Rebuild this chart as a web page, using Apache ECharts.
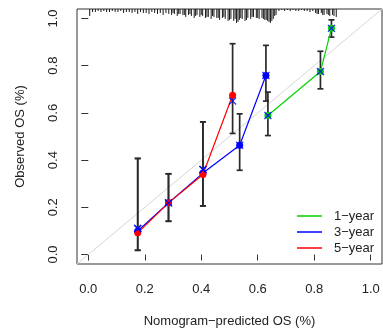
<!DOCTYPE html>
<html>
<head>
<meta charset="utf-8">
<script src="https://cdn.jsdelivr.net/npm/echarts@6/dist/echarts.min.js"></script>
<style>html,body{margin:0;padding:0;background:#fff}#c{width:383px;height:336px}</style>
</head>
<body>
<div id="c"></div>
<script>
// ---- data ----
const xTicks = [0, 0.2, 0.4, 0.6, 0.8, 1.0];
const yTicks = [0, 0.2, 0.4, 0.6, 0.8, 1.0];
const legendNames = ['1\u2212year', '3\u2212year', '5\u2212year'];

// 1-year
const pred1 = [0.636, 0.822, 0.861];
const obs1  = [0.589, 0.775, 0.958];
const bc1   = [0.589, 0.775, 0.958];
const lo1   = [0.504, 0.702, 0.921];
const hi1   = [0.688, 0.861, 0.994];
// 3-year
const pred3 = [0.175, 0.284, 0.406, 0.536, 0.629];
const obs3  = [0.100, 0.219, 0.345, 0.463, 0.758];
const bc3   = [0.110, 0.219, 0.360, 0.463, 0.758];
const lo3   = [0.018, 0.141, 0.206, 0.357, 0.650];
const hi3   = [0.407, 0.342, 0.562, 0.596, 0.886];
// 5-year
const pred5 = [0.175, 0.284, 0.406, 0.511];
const obs5  = [0.092, 0.219, 0.339, 0.675];
const bc5   = [0.110, 0.219, 0.360, 0.650];
const lo5   = [0.018, 0.141, 0.206, 0.513];
const hi5   = [0.407, 0.342, 0.562, 0.893];

// distribution of predicted values (spike histogram at top)
const rugX = [0.005,0.015,0.025,0.035,0.045,0.055,0.065,0.075,0.085,0.095,
  0.105,0.115,0.125,0.135,0.145,0.155,0.165,0.175,0.185,0.195,
  0.205,0.215,0.225,0.235,0.245,0.255,0.265,0.275,0.285,0.295,
  0.305,0.315,0.325,0.335,0.345,0.355,0.365,0.375,0.385,0.395,
  0.405,0.415,0.425,0.435,0.445,0.455,0.465,0.475,0.485,0.495,
  0.505,0.515,0.525,0.535,0.545,0.555,0.565,0.575,0.585,0.595,
  0.605,0.615,0.625,0.635,0.645,0.655,0.665,0.675,0.685,0.695,
  0.705,0.715,0.725,0.735,0.745,0.755,0.765,0.775,0.785,0.795,
  0.805,0.815,0.825,0.835,0.845,0.855,0.865,0.878];
const rugCount = [7,3,3,2,3,2,3,3,2,3,
  3,2,4,3,3,4,3,5,3,4,
  4,5,3,4,5,4,6,4,5,6,
  5,7,5,6,8,6,7,9,6,8,
  7,9,8,10,8,9,11,9,10,12,
  10,12,14,11,10,12,9,10,8,9,
  10,9,11,12,14,10,6,2,1,2,
  1,2,1,2,2,1,2,2,3,2,
  4,5,4,6,5,7,6,8];
// extra spikes between the above in the dense middle/right part
const rugX2 = [0.30,0.32,0.34,0.36,0.38,0.40,0.42,0.44,0.46,0.48,
  0.50,0.52,0.53,0.54,0.56,0.58,0.60,0.62,0.63,0.64,0.65,0.66,
  0.81,0.83,0.85,0.87];
const rugCount2 = [4,5,6,5,7,6,8,7,9,8,
  11,10,13,9,11,8,9,10,11,13,12,7,
  5,6,6,7];

const diagX = [-0.04, 1.04];

// ---- styles ----
const C1 = '#00d400', C3 = '#0000ff', C5 = '#ff0000';
const FONT = 'Liberation Sans, Arial, sans-serif';
const X_MIN = -0.04, X_MAX = 1.04, Y_MIN = -0.04, Y_MAX = 1.04;
const spikeUnit = 0.0042;

const zip = (a, b) => a.map((v, i) => [v, b[i]]);
const zip3 = (a, b, c) => a.map((v, i) => [v, b[i], c[i]]);

function errRender(params, api) {
  const x = api.value(0), lo = api.value(1), hi = api.value(2);
  const p1 = api.coord([x, lo]), p2 = api.coord([x, hi]);
  const w = 3;
  const st = {stroke: '#2a2a2a', lineWidth: 1.7};
  return {type: 'group', children: [
    {type: 'line', shape: {x1: p1[0], y1: p1[1], x2: p2[0], y2: p2[1]}, style: st},
    {type: 'line', shape: {x1: p1[0]-w, y1: p1[1], x2: p1[0]+w, y2: p1[1]}, style: st},
    {type: 'line', shape: {x1: p2[0]-w, y1: p2[1], x2: p2[0]+w, y2: p2[1]}, style: st}
  ]};
}
function rugRender(params, api) {
  const x = api.value(0), n = api.value(1);
  const p1 = api.coord([x, Y_MAX]), p2 = api.coord([x, Y_MAX - n * spikeUnit]);
  return {type: 'line', shape: {x1: p1[0], y1: p1[1], x2: p2[0], y2: p2[1]},
    style: {stroke: '#1a1a1a', lineWidth: 1}};
}
const xSym = 'path://M0,0L10,10M10,0L0,10';
function bcSeries(px, py) {
  return {type: 'scatter', data: zip(px, py), symbol: xSym, symbolSize: 7,
    itemStyle: {color: 'rgba(0,0,0,0)', borderColor: '#0000ff', borderWidth: 1.3}, z: 5, silent: true};
}
function lineSeries(name, color, px, py) {
  return {name, type: 'line', data: zip(px, py), color: color,
    symbol: 'circle', symbolSize: 7, showSymbol: true,
    lineStyle: {color, width: 1.2}, itemStyle: {color}, z: 4, animation: false};
}

const chart = echarts.init(document.getElementById('c'), null, {renderer: 'canvas'});
chart.setOption({
  animation: false,
  backgroundColor: '#fff',
  textStyle: {fontFamily: FONT},
  grid: {left: 77, top: 9, width: 305, height: 255, show: true, borderColor: '#333', borderWidth: 1, containLabel: false},
  legend: {
    data: legendNames, orient: 'vertical', left: 297, top: 208, padding: 0,
    icon: 'rect', itemWidth: 25, itemHeight: 1.5, itemGap: 0,
    textStyle: {fontSize: 13, color: '#222', fontFamily: FONT, lineHeight: 16, padding: [0, 0, 0, 7]},
    selectedMode: false
  },
  xAxis: {
    type: 'value', min: X_MIN, max: X_MAX,
    name: 'Nomogram\u2212predicted OS (%)', nameLocation: 'middle', nameGap: 51,
    nameTextStyle: {fontSize: 13, color: '#222', fontFamily: FONT},
    axisLine: {show: false},
    axisTick: {show: true, customValues: xTicks, length: 6, lineStyle: {color: '#333', width: 1}},
    axisLabel: {customValues: xTicks, formatter: v => v.toFixed(1), fontSize: 13, color: '#222', margin: 19, fontFamily: FONT},
    splitLine: {show: false}
  },
  yAxis: {
    type: 'value', min: Y_MIN, max: Y_MAX,
    name: 'Observed OS (%)', nameLocation: 'middle', nameGap: 50,
    nameTextStyle: {fontSize: 13, color: '#222', fontFamily: FONT},
    axisLine: {show: false},
    axisTick: {show: true, customValues: yTicks, length: 7, lineStyle: {color: '#333', width: 1}},
    axisLabel: {customValues: yTicks, formatter: v => v.toFixed(1), fontSize: 13, color: '#222', margin: 17, rotate: 90, fontFamily: FONT},
    splitLine: {show: false}
  },
  series: [
    {type: 'line', data: zip(diagX, diagX), symbol: 'none', lineStyle: {color: '#d6d6d6', width: 1}, z: 1, silent: true},
    {type: 'custom', renderItem: rugRender, data: zip(rugX, rugCount), z: 2, silent: true},
    {type: 'custom', renderItem: rugRender, data: zip(rugX2, rugCount2), z: 2, silent: true},
    {type: 'custom', renderItem: errRender, data: zip3(pred1, lo1, hi1), z: 3, silent: true},
    {type: 'custom', renderItem: errRender, data: zip3(pred3, lo3, hi3), z: 3, silent: true},
    {type: 'custom', renderItem: errRender, data: zip3(pred5, lo5, hi5), z: 3, silent: true},
    lineSeries(legendNames[0], C1, pred1, obs1),
    lineSeries(legendNames[1], C3, pred3, obs3),
    lineSeries(legendNames[2], C5, pred5, obs5),
    bcSeries(pred1, bc1),
    bcSeries(pred3, bc3),
    bcSeries(pred5, bc5)
  ]
});
</script>
</body>
</html>
